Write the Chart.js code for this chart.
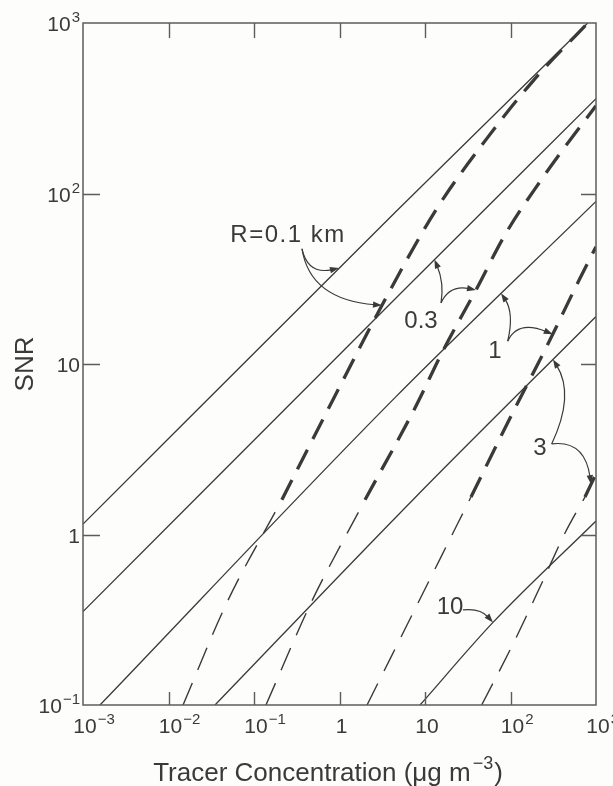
<!DOCTYPE html>
<html>
<head>
<meta charset="utf-8">
<script src="https://cdn.jsdelivr.net/npm/chart.js@4.4.1/dist/chart.umd.min.js"></script>
<style>
  html, body { margin: 0; padding: 0; background: #fdfdfb; }
  canvas { display: block; }
</style>
</head>
<body>
<canvas id="snr" width="613" height="786"></canvas>
<script>
// ---- Solid curves: SNR versus tracer concentration, one per range R ----
const r01Conc = [0.001, 4.58, 800];
const r01Snr  = [1.15, 78.5, 1000];
const r03Conc = [0.001, 4.58, 1000];
const r03Snr  = [0.353, 24.4, 360];
const r1Conc  = [0.00158, 4.58, 1000];
const r1Snr   = [0.1, 6.44, 89.9];
const r3Conc  = [0.035, 7.24, 1000];
const r3Snr   = [0.1, 1.6, 19.0];
const r10Conc = [8.75, 62.4, 1000];
const r10Snr  = [0.1, 0.305, 1.2];

// ---- Dashed curves: light dashes below the threshold, heavy dashes above ----
const r01LowConc  = [0.0148, 0.048, 0.212];
const r01LowSnr   = [0.1, 0.397, 1.6];
const r01HighConc = [0.212, 0.839, 3.40, 13.5, 51.7, 182, 800];
const r01HighSnr  = [1.6, 6.17, 23.8, 80.4, 207, 455, 1000];

const r03LowConc  = [0.138, 0.464, 1.99];
const r03LowSnr   = [0.1, 0.397, 1.6];
const r03HighConc = [1.99, 7.43, 16.7, 39.5, 86.3, 228, 434, 1000];
const r03HighSnr  = [1.6, 5.38, 12.3, 27.2, 57.3, 120, 188, 327];

const r1LowConc  = [2.10, 34.5];
const r1LowSnr   = [0.1, 1.66];
const r1HighConc = [34.5, 106, 272, 637, 1000];
const r1HighSnr  = [1.66, 5.17, 13.0, 31.2, 48.7];

const r3LowConc  = [46, 108, 242, 434, 743];
const r3LowSnr   = [0.1, 0.230, 0.542, 1.02, 1.66];
const r3HighConc = [743, 1000];
const r3HighSnr  = [1.66, 2.27];

// ---- Axis ticks ----
const xTickValues = [1e-3, 1e-2, 1e-1, 1, 10, 100, 1000];
const xTickBase   = ['10', '10', '10', '1', '10', '10', '10'];
const xTickExp    = ['\u22123', '\u22122', '\u22121', '', '', '2', '3'];
const yTickValues = [0.1, 1, 10, 100, 1000];
const yTickBase   = ['10', '1', '10', '10', '10'];
const yTickExp    = ['\u22121', '', '', '2', '3'];

// ---- Curve labels (placed in data coordinates) ----
const labelText = ['R=0.1 km', '0.3', '1', '3', '10'];
const labelConc = [0.25, 8.98, 65.9, 221, 19.6];
const labelSnr  = [56.5, 17.9, 11.9, 3.18, 0.376];

// ---- Leader arrows from labels to curves ----
const arrowFromConc = [0.364, 0.364, 15.4, 15.4, 92.7, 92.7, 303, 303, 27.8];
const arrowFromSnr  = [47.4, 47.4, 22.8, 22.8, 13.6, 13.6, 3.40, 3.40, 0.361];
const arrowBendConc = [0.428, 0.452, 16.8, 19.2, 111, 121, 567, 743, 44];
const arrowBendSnr  = [33.3, 23.8, 29.9, 29.2, 19.9, 18.2, 6.59, 3.59, 0.371];
const arrowToSeries = ['r01', 'r01High', 'r03', 'r03High', 'r1', 'r1High', 'r3', 'r3High', 'r10'];
const arrowToConc   = [0.986, 3.14, 12.9, 39.5, 77.5, 312, 314, 875, 62.4];

const INK = '#3a3a3a';
const FRAME = '#5c5c5c';
const FONT = '"Liberation Sans", Arial, Helvetica, sans-serif';

function pts(xs, ys) { return xs.map((x, i) => ({ x: x, y: ys[i] })); }

function solid(id, xs, ys) {
  return { id: id, data: pts(xs, ys), borderColor: INK, borderWidth: 1.3,
           pointRadius: 0, fill: false, cubicInterpolationMode: 'monotone' };
}
function lightDash(id, xs, ys) {
  return { id: id, data: pts(xs, ys), borderColor: INK, borderWidth: 1.4,
           borderDash: [24, 14], pointRadius: 0, fill: false,
           cubicInterpolationMode: 'monotone' };
}
function heavyDash(id, xs, ys) {
  return { id: id, data: pts(xs, ys), borderColor: INK, borderWidth: 3.3,
           borderDash: [22, 12], pointRadius: 0, fill: false,
           cubicInterpolationMode: 'monotone' };
}

const datasets = [
  solid('r01', r01Conc, r01Snr),
  solid('r03', r03Conc, r03Snr),
  solid('r1', r1Conc, r1Snr),
  solid('r3', r3Conc, r3Snr),
  solid('r10', r10Conc, r10Snr),
  lightDash('r01Low', r01LowConc, r01LowSnr),
  heavyDash('r01High', r01HighConc, r01HighSnr),
  lightDash('r03Low', r03LowConc, r03LowSnr),
  heavyDash('r03High', r03HighConc, r03HighSnr),
  lightDash('r1Low', r1LowConc, r1LowSnr),
  heavyDash('r1High', r1HighConc, r1HighSnr),
  lightDash('r3Low', r3LowConc, r3LowSnr),
  heavyDash('r3High', r3HighConc, r3HighSnr)
];

// Text with an optional raised exponent; align is 'center-base', 'right' or 'center'
function drawPower(ctx, base, exp, x, y, align, size, supSize, rise) {
  ctx.font = size + 'px ' + FONT;
  const wb = ctx.measureText(base).width;
  ctx.font = supSize + 'px ' + FONT;
  const we = exp ? ctx.measureText(exp).width + 1 : 0;
  let x0;
  if (align === 'right') x0 = x - wb - we;
  else if (align === 'center-base') x0 = x - wb / 2;
  else x0 = x - (wb + we) / 2;
  ctx.textAlign = 'left';
  ctx.textBaseline = 'alphabetic';
  ctx.font = size + 'px ' + FONT;
  ctx.fillText(base, x0, y);
  if (exp) {
    ctx.font = supSize + 'px ' + FONT;
    ctx.fillText(exp, x0 + wb + 1, y - rise);
  }
}

const decorations = {
  id: 'decorations',
  afterDatasetsDraw(chart) {
    const ctx = chart.ctx;
    const xs = chart.scales.x, ys = chart.scales.y;
    const a = chart.chartArea;
    ctx.save();

    // plot frame
    ctx.strokeStyle = FRAME;
    ctx.lineWidth = 1.5;
    ctx.strokeRect(a.left, a.top, a.right - a.left, a.bottom - a.top);

    // inward tick marks
    ctx.lineWidth = 1.4;
    ctx.beginPath();
    xTickValues.forEach(v => {
      const px = Math.round(xs.getPixelForValue(v)) + 0.5;
      if (px <= a.left + 2 || px >= a.right - 2) return;
      ctx.moveTo(px, a.bottom); ctx.lineTo(px, a.bottom - 13);
      ctx.moveTo(px, a.top); ctx.lineTo(px, a.top + 15);
    });
    yTickValues.forEach(v => {
      const py = Math.round(ys.getPixelForValue(v)) + 0.5;
      if (py <= a.top + 2 || py >= a.bottom - 2) return;
      ctx.moveTo(a.left, py); ctx.lineTo(a.left + 17, py);
      ctx.moveTo(a.right, py); ctx.lineTo(a.right - 15, py);
    });
    ctx.stroke();

    // tick labels
    ctx.fillStyle = INK;
    xTickValues.forEach((v, i) => {
      const px = xs.getPixelForValue(v);
      drawPower(ctx, xTickBase[i], xTickExp[i], px + 2, a.bottom + 28,
                'center-base', 21, 15, 9);
    });
    yTickValues.forEach((v, i) => {
      const py = ys.getPixelForValue(v);
      drawPower(ctx, yTickBase[i], yTickExp[i], a.left - 3, py + 8,
                'right', 21, 15, 9);
    });

    // axis titles
    ctx.font = '26px ' + FONT;
    ctx.save();
    ctx.translate(33, (a.top + a.bottom) / 2);
    ctx.rotate(-Math.PI / 2);
    ctx.textAlign = 'center';
    ctx.textBaseline = 'alphabetic';
    ctx.fillText('SNR', 0, 0);
    ctx.restore();

    const titleMain = 'Tracer Concentration (\u03bcg m';
    const titleExp = '\u22123';
    const titleEnd = ')';
    ctx.font = '26px ' + FONT;
    const w1 = ctx.measureText(titleMain).width;
    const w3 = ctx.measureText(titleEnd).width;
    ctx.font = '18px ' + FONT;
    const w2 = ctx.measureText(titleExp).width;
    const tx = 328 - (w1 + w2 + w3 + 3) / 2;
    const ty = 781;
    ctx.textAlign = 'left';
    ctx.font = '26px ' + FONT;
    ctx.fillText(titleMain, tx, ty);
    ctx.font = '18px ' + FONT;
    ctx.fillText(titleExp, tx + w1 + 2, ty - 12);
    ctx.font = '26px ' + FONT;
    ctx.fillText(titleEnd, tx + w1 + w2 + 3, ty);

    // curve labels
    ctx.font = '24px ' + FONT;
    ctx.textAlign = 'center';
    ctx.textBaseline = 'middle';
    labelText.forEach((t, i) => {
      const px = xs.getPixelForValue(labelConc[i]);
      const py = ys.getPixelForValue(labelSnr[i]);
      if (i === 0 && 'letterSpacing' in ctx) {
        ctx.letterSpacing = '1.5px';
        ctx.fillText(t, px, py);
        ctx.letterSpacing = '0px';
      } else {
        ctx.fillText(t, px, py);
      }
    });

    // leader arrows, ending on the curves they name
    const idIndex = {};
    chart.data.datasets.forEach((d, i) => { idIndex[d.id] = i; });
    ctx.strokeStyle = INK;
    ctx.fillStyle = INK;
    ctx.lineWidth = 1.2;
    arrowToSeries.forEach((sid, i) => {
      const meta = chart.getDatasetMeta(idIndex[sid]);
      let tip = meta.dataset.interpolate({ x: xs.getPixelForValue(arrowToConc[i]) }, 'x');
      if (Array.isArray(tip)) tip = tip[0];
      if (!tip) return;
      const sx = xs.getPixelForValue(arrowFromConc[i]);
      const sy = ys.getPixelForValue(arrowFromSnr[i]);
      const cx = xs.getPixelForValue(arrowBendConc[i]);
      const cy = ys.getPixelForValue(arrowBendSnr[i]);
      const ang = Math.atan2(tip.y - cy, tip.x - cx);
      const len = 9, half = 3.2;
      const bx = tip.x - Math.cos(ang) * len;
      const by = tip.y - Math.sin(ang) * len;
      ctx.beginPath();
      ctx.moveTo(sx, sy);
      ctx.quadraticCurveTo(cx, cy, bx + Math.cos(ang) * 2, by + Math.sin(ang) * 2);
      ctx.stroke();
      ctx.beginPath();
      ctx.moveTo(tip.x, tip.y);
      ctx.lineTo(bx - Math.sin(ang) * half, by + Math.cos(ang) * half);
      ctx.lineTo(bx + Math.sin(ang) * half, by - Math.cos(ang) * half);
      ctx.closePath();
      ctx.fill();
    });

    ctx.restore();
  }
};

const background = {
  id: 'background',
  beforeDraw(chart) {
    const ctx = chart.ctx;
    ctx.save();
    ctx.fillStyle = '#fdfdfb';
    ctx.fillRect(0, 0, chart.width, chart.height);
    ctx.restore();
  }
};

new Chart(document.getElementById('snr'), {
  type: 'line',
  data: { datasets: datasets },
  options: {
    responsive: false,
    animation: false,
    devicePixelRatio: 1,
    layout: { padding: { left: 83, right: 17, top: 23, bottom: 81 } },
    scales: {
      x: { type: 'logarithmic', min: 1e-3, max: 1e3, display: false },
      y: { type: 'logarithmic', min: 0.1, max: 1e3, display: false }
    },
    plugins: { legend: { display: false }, tooltip: { enabled: false } }
  },
  plugins: [background, decorations]
});
</script>
</body>
</html>
